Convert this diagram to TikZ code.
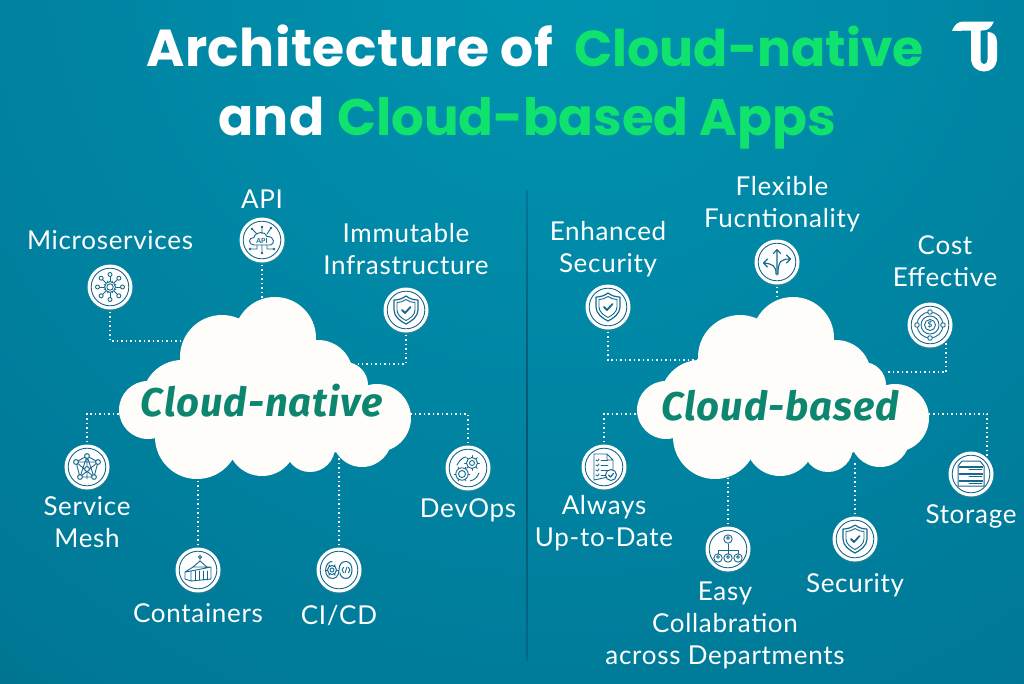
\documentclass[tikz,border=0pt]{standalone}
\usepackage{fontspec}
\usetikzlibrary{shadows}
\setmainfont{Lato}
\newfontfamily\lblf{Lato}[LetterSpace=2.7]
\newfontfamily\titlef{Poppins}[LetterSpace=1]
\newfontfamily\titleg{Poppins}
\newfontfamily\cloudf{Fira Sans}[LetterSpace=2.5]
\definecolor{bgin}{HTML}{0095B2}
\definecolor{bgout}{HTML}{005C7C}
\definecolor{gr}{HTML}{0FE36D}
\definecolor{cloudc}{HTML}{FFFDFA}
\definecolor{cltxt}{HTML}{0D8670}
\definecolor{ic}{HTML}{17698C}
\definecolor{divc}{HTML}{0A5370}
\pgfdeclareradialshading{bgshade}{\pgfpointorigin}{color(0bp)=(bgin);color(42bp)=(bgout);color(50bp)=(bgout)}
\newcommand{\cloudblob}{%
  \fill[cloudc] (275,338) circle (41) (222,357) circle (42) (318,375) circle (35)
   (345,385) circle (23) (377,418) circle (34) (148,410) circle (29)
   (182,400) circle (40) (197,437) circle (42) (262,441.5) circle (34.5)
   (310,447) circle (25) (362,437) circle (30) (265,400) circle (60) (210,410) circle (50) (320,410) circle (45);}
\tikzset{
  x=1pt,y=-1pt,
  lbl/.style={text=white,align=center,font=\lblf\fontsize{26}{32}\selectfont,inner sep=0pt},
  title/.style={font=\titlef\bfseries\fontsize{52}{60}\selectfont,text=white,inner sep=0pt,anchor=base west},
  titlegr/.style={font=\titleg\bfseries\fontsize{50.5}{60}\selectfont,text=gr,inner sep=0pt,anchor=base west},
  titlegrb/.style={font=\titleg\bfseries\fontsize{51.4}{60}\selectfont,text=gr,inner sep=0pt,anchor=base west},
  cltext/.style={font=\cloudf\bfseries\itshape\fontsize{40}{40}\selectfont,text=cltxt,inner sep=0pt},
  iconbox/.style={circle,fill=white,minimum size=45pt,inner sep=0pt,drop shadow={shadow xshift=0.5pt,shadow yshift=-1.5pt,opacity=.22}},
  ln/.style={draw=ic,line width=.9pt,line join=round,line cap=round},
  conn/.style={draw=white,line width=1.3pt,dash pattern=on 1.5pt off 3pt,shorten <=2pt},
}
\newcommand{\ring}[1]{\draw[ic,line width=.9pt] (#1.center) circle (18.8);}
\newcommand{\shieldicon}[1]{\begin{scope}[shift={(#1.center)}]
  \draw[ln,line width=1.2pt] (0,-14) .. controls (4,-11) and (8,-10) .. (12,-10) -- (12,0) .. controls (12,7) and (5,11.5) .. (0,14) .. controls (-5,11.5) and (-12,7) .. (-12,0) -- (-12,-10) .. controls (-8,-10) and (-4,-11) .. (0,-14) -- cycle;
  \draw[ln] (0,-10.5) .. controls (3,-8.5) and (6,-7.5) .. (9,-7.5) -- (9,0) .. controls (9,5) and (4,8.5) .. (0,10.5) .. controls (-4,8.5) and (-9,5) .. (-9,0) -- (-9,-7.5) .. controls (-6,-7.5) and (-3,-8.5) .. (0,-10.5) -- cycle;
  \draw[ln,line width=1.8pt] (-4,0) -- (-1,3) -- (4.5,-3);
\end{scope}}
\begin{document}
\begin{tikzpicture}
\useasboundingbox (0,0) rectangle (1024,683);
\begin{scope}
\clip (0,0) rectangle (1024,683);
\shade[shading=bgshade] (560,-60) circle (1000);
\end{scope}
% divider
\shade[top color=bgin!45!bgout,bottom color=bgin!20!bgout,middle color=divc] (526.3,190) rectangle (527.8,660);
% titles
\node[title] (t1a) at (146,66) {Architecture of};
\node[titlegr] (t1b) at (574,66) {Cloud-native};
\node[title] (t2a) at (218,135) {and};
\node[titlegrb] (t2b) at (337,135) {Cloud-based Apps};
% logo
\fill[white] (952,31) .. controls (955,24) and (958,21.5) .. (964,21.5) -- (994,21.5) .. controls (991,28) and (988,30.5) .. (982,30.5) -- (980.5,30.5) -- (980.5,59) .. controls (980.5,66) and (987.5,66) .. (987.5,59) -- (987.5,32) .. controls (993,32) and (997,35) .. (997,42) -- (997,58) .. controls (997,76) and (971,76) .. (971,58) -- (971,30.5) -- cycle;
% icons
\foreach \n/\p in {ms/{110,287},api/{262,240},imm/{406,310},sm/{87,467},con/{198,570},cicd/{339,570},dev/{468,468},
  esec/{608,307},flex/{777,262},cost/{930,325},alw/{604,467},easy/{728,549},sec/{855,539},sto/{971,474}}
  {\node[iconbox] (\n) at (\p) {};}
\foreach \n in {ms,api,imm,sm,con,cicd,dev,esec,flex,cost,alw,easy,sec,sto} {\ring{\n}}
% microservices
\begin{scope}[shift={(ms.center)}]
  \foreach \a in {0,45,...,315} {\draw[ln] (\a:6) -- (\a:10.5); \draw[ln,fill=white] (\a:12.5) circle (2); \draw[ln] (\a+22:5.2) -- (\a+22:6.4);}
  \draw[ln,line width=.9pt] (0,0) circle (5.4); \draw[ln] (0,0) circle (3.2);
\end{scope}
% api
\begin{scope}[shift={(api.center)}]
  \draw[ln] (-8,5) .. controls (-14,5) and (-14,-3) .. (-8,-2.5) .. controls (-7,-9) and (4,-9) .. (5,-3.5) .. controls (13,-4) and (13,5) .. (8,5) -- cycle;
  \node[font=\bfseries\fontsize{7}{7}\selectfont,text=ic,inner sep=0pt] (apit) at (0,0.5) {API};
  \foreach \a/\b in {-10/-11,0/-13,9/-12} {\fill[ic] (\a,\b) circle (1.3);}
  \draw[ln] (0,-6) -- (0,-13) (-5,-6) -- (-10,-11) (5,-6) -- (9,-12) (0,5) -- (0,13) (-5,5) -- (-5,9) -- (-12,9) (5,5) -- (5,9) -- (12,9);
  \foreach \a/\b in {0/13,-12/9,12/9} {\fill[ic] (\a,\b) circle (1.3);}
\end{scope}
\shieldicon{imm}\shieldicon{esec}\shieldicon{sec}
% service mesh
\begin{scope}[shift={(sm.center)}]
  \draw[ln] (0,-11) -- (-11,-5) -- (-7,10) -- (7,10) -- (11,-5) -- cycle (0,-11) -- (0,12) (-11,-5) -- (11,-5) (-11,-5) -- (7,10) (11,-5) -- (-7,10) (0,-11) -- (-7,10) (0,-11) -- (7,10);
  \foreach \p in {(0,-11),(-11,-5),(11,-5),(-7,10),(7,10),(0,2)} {\draw[ln,fill=white,line width=1pt] \p circle (2.4);}
\end{scope}
% containers
\begin{scope}[shift={(con.center)}]
  \draw[ln] (-13,2) -- (-5,-3) -- (13,-3) -- (13,9) -- (-7,11) -- (-13,9) -- cycle (-7,1) -- (-7,11) (-7,1) -- (-13,2) (-7,1) -- (13,-3);
  \foreach \x in {-3,1,5,9} {\draw[ln] (\x,1) -- (\x,10);}
  \draw[ln] (-5,-3) -- (2,-9) -- (9,-3) (2,-9) -- (2,-12);
  \draw[ln,fill=white] (2,-13) circle (1.6);
\end{scope}
% ci/cd
\begin{scope}[shift={(cicd.center)}]
  \draw[ln,line width=1pt] (-7,-8.5) .. controls (-14,-8.5) and (-16,5) .. (-9,8) .. controls (-4,10) and (0,6) .. (0,0) .. controls (0,-6) and (3,-8.5) .. (7,-8.5) .. controls (15,-8.5) and (15,8.5) .. (7,8.5) .. controls (3,8.5) and (1,5) .. (1,3);
  \draw[ln,line width=1pt] (-7,0) circle (4.5); \draw[ln] (-7,0) circle (2);
  \foreach \a in {0,60,...,300} {\draw[ln,line width=1pt,shift={(-7,0)}] (\a:4.5) -- (\a:6);}
  \draw[ln,line width=.9pt] (4.5,-2.5) -- (3,0) -- (4.5,2.5) (9.5,-2.5) -- (11,0) -- (9.5,2.5) (8,-3) -- (6,3);
\end{scope}
% devops
\begin{scope}[shift={(dev.center)}]
  \draw[ln] (4,-5) circle (5.5); \draw[ln] (4,-5) circle (2.5);
  \foreach \a in {0,45,...,315} {\draw[ln,shift={(4,-5)}] (\a:5.5) -- (\a:7.5);}
  \draw[ln] (-6,6) circle (3.5); \draw[ln] (-6,6) circle (6.2);
  \foreach \a in {0,60,...,300} {\draw[ln,shift={(-6,6)}] (\a:6.2) -- (\a:7.6);}
  \draw[ln] (-11,-3) .. controls (-8,-9) and (-4,-11) .. (-2,-11) (11,5) .. controls (9,10) and (6,12) .. (2,13);
\end{scope}
% flexible
\begin{scope}[shift={(flex.center)}]
  \draw[ln,line width=1.1pt] (0,13) -- (0,-12) (-3.5,-8.5) -- (0,-12.5) -- (3.5,-8.5);
  \draw[ln,line width=1.1pt] (-1,12) .. controls (-1,3) and (-5,2) .. (-13,1) (-9.5,-3) -- (-13.5,1) -- (-9.5,5);
  \draw[ln,line width=1.1pt] (1,12) .. controls (1,-2) and (5,-3) .. (13,-3) (9.5,-7) -- (13.5,-3) -- (9.5,1);
\end{scope}
% cost
\begin{scope}[shift={(cost.center)}]
  \draw[ln] (0,0) circle (13); \draw[ln] (0,0) circle (9); \draw[ln] (0,0) circle (5.5);
  \foreach \a in {0,90,180,270} {\draw[ln,fill=white] (\a:13) circle (2.3);}
  \node[font=\bfseries\fontsize{8}{8}\selectfont,text=ic,inner sep=0pt] (costd) at (0,0) {\$};
\end{scope}
% always
\begin{scope}[shift={(alw.center)}]
  \draw[ln,line width=.9pt] (-10,-13) -- (3,-13) -- (9,-7) -- (9,9) -- (-10,13) -- cycle (3,-13) -- (3,-7) -- (9,-7);
  \foreach \y in {-7,-2,3,8} {\draw[ln] (-3,\y) -- (4,\y); \draw[ln] (-8,\y) -- (-6.5,\y+1) -- (-5,\y-1);}
  \draw[ln,fill=white,line width=1pt] (7,8) circle (5.5);
  \draw[ln,line width=1.2pt] (4.5,8) -- (6.5,10) -- (9.5,6.5);
\end{scope}
% easy
\begin{scope}[shift={(easy.center)}]
  \draw[ln] (0,-5) -- (0,1) (-10,5) -- (-10,1) -- (10,1) -- (10,5) (0,1) -- (0,5);
  \foreach \p in {(0,-10),(-10,9),(0,9),(10,9)} {\draw[ln,line width=.9pt] \p circle (4.2);}
  \foreach \p in {(0,-11),(-10,8),(0,8),(10,8)} {\draw[ln] \p circle (1.4);}
\end{scope}
% storage
\begin{scope}[shift={(sto.center)}]
  \draw[ln,line width=1pt] (-9,-13) -- (9,-13) -- (13,-8) -- (13,12) -- (-13,12) -- (-13,-8) -- cycle;
  \foreach \y in {-8,-1,6} {\fill[ic] (-12,\y) rectangle (12,\y+1.6); \fill[white] (-8,\y+3) rectangle (-5,\y+4); \draw[ln] (-2,\y+3.5) -- (11,\y+3.5);}
\end{scope}
% labels
\node[lbl] (lms) at (110,240) {Microservices};
\node[lbl] (lapi) at (262,199) {API};
\node[lbl] (limm) at (406,249) {Immutable\\Infrastructure};
\node[lbl] (lsm) at (87,522) {Service\\Mesh};
\node[lbl] (lcon) at (198,613) {Containers};
\node[lbl] (lcicd) at (339,615) {CI/CD};
\node[lbl] (ldev) at (468,510) {DevOps};
\node[lbl] (lesec) at (608,249) {Enhanced\\Security};
\node[lbl] (lflex) at (782,204) {Flexible\\Fucntionality};
\node[lbl] (lcost) at (945,261) {Cost\\Effective};
\node[lbl] (lalw) at (604,523) {Always\\Up-to-Date};
\node[lbl] (leasy) at (725,625) {Easy\\Collabration\\across Departments};
\node[lbl] (lsec) at (855,585) {Security};
\node[lbl] (lsto) at (971,516) {Storage};
% connector ends on the clouds
\coordinate (a1) at (185,341); \coordinate (a2) at (262,299); \coordinate (a3) at (358,364);
\coordinate (a4) at (120,414); \coordinate (a5) at (198,476); \coordinate (a6) at (339,456); \coordinate (a7) at (408,414);
\coordinate (b1) at (703,360); \coordinate (b2) at (777,299); \coordinate (b3) at (885,372);
\coordinate (b4) at (638,414); \coordinate (b5) at (728,476); \coordinate (b6) at (855,463); \coordinate (b7) at (927,414);
\draw[conn] (ms.south) |- (a1);
\draw[conn] (api.south) -- (a2);
\draw[conn] (imm.south) |- (a3);
\draw[conn] (sm.north) |- (a4);
\draw[conn] (con.north) -- (a5);
\draw[conn] (cicd.north) -- (a6);
\draw[conn] (dev.north) |- (a7);
\draw[conn] (esec.south) |- (b1);
\draw[conn] (flex.south) -- (b2);
\draw[conn] (cost.south east) |- (b3);
\draw[conn] (alw.north) |- (b4);
\draw[conn] (easy.north) -- (b5);
\draw[conn] (sec.north) -- (b6);
\draw[conn] (sto.north east) |- (b7);
% clouds
\cloudblob
\begin{scope}[xshift=518pt]\cloudblob\end{scope}
\node[cltext] (cn) at (262,401) {Cloud-native};
\node[cltext] (cb) at (780,406) {Cloud-based};
\end{tikzpicture}
\end{document}
